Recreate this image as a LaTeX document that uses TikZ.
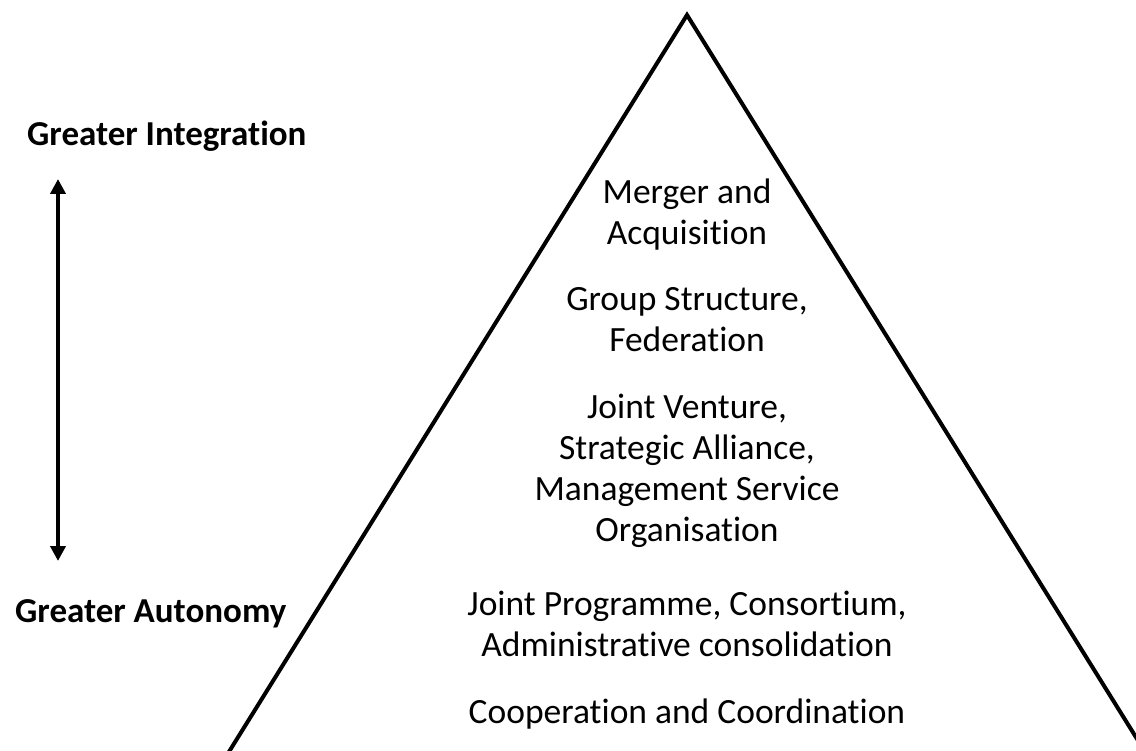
\documentclass[tikz,border=0pt]{standalone}
\usepackage{fontspec}
\setmainfont{Carlito}[Ligatures=NoCommon]
\usetikzlibrary{arrows.meta}

\begin{document}
\begin{tikzpicture}[
    x=1pt, y=-1pt,
    niveau/.style={align=center, font=\fontsize{35.5}{41}\selectfont, inner sep=0pt, anchor=base},
    extreme/.style={font=\bfseries\fontsize{35}{40}\selectfont, inner sep=0pt, anchor=base west},
    fleche/.style={line width=4pt, {Triangle[width=15pt,length=15pt]}-{Triangle[width=15pt,length=15pt]}},
]
\useasboundingbox (0,0) rectangle (1136,751);

% Pyramide
\begin{scope}
\clip (0,0) rectangle (1136,751);
\draw[line width=4pt, line join=miter] (199,800) -- (687,15) -- (1175,800);
\end{scope}

% Niveaux, du sommet vers la base (base = derniere ligne)
\node[niveau] (fusion) at (687,245) {Merger and\\Acquisition};
\node[niveau] (groupe) at (687,352) {Group Structure,\\Federation};
\node[niveau] (alliance) at (687,541) {Joint Venture,\\Strategic Alliance,\\Management Service\\Organisation};
\node[niveau] (programme) at (687,656) {Joint Programme, Consortium,\\Administrative consolidation};
\node[niveau] (cooperation) at (687,723) {Cooperation and Coordination};

% Axe a gauche
\node[extreme] (integration) at (27,146) {Greater Integration};
\node[extreme] (autonomie) at (15,622) {Greater Autonomy};
\coordinate (haut) at (58,179);
\coordinate (bas) at (58,561);
\draw[fleche] (bas) -- (haut);

\end{tikzpicture}
\end{document}
